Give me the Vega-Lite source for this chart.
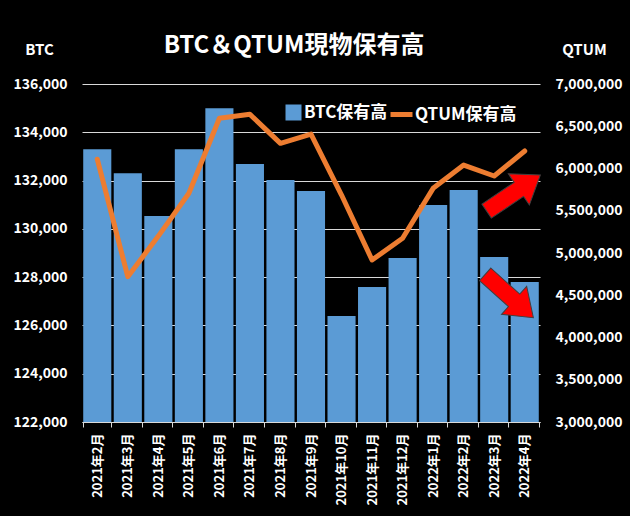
{
  "$schema": "https://vega.github.io/schema/vega-lite/v6.json",
  "width": 458,
  "height": 338,
  "autosize": {"type": "none"},
  "padding": {"left": 82, "top": 84, "right": 90, "bottom": 94},
  "background": "#000000",
  "title": {
    "text": "BTC＆QTUM現物保有高",
    "fontSize": 24,
    "fontWeight": "bold",
    "color": "#ffffff",
    "anchor": "middle",
    "dx": -17,
    "dy": 26,
    "offset": 10
  },
  "data": {
    "values": [
      {"month": "2021年2月", "btc": 133300, "qtum": 6110000},
      {"month": "2021年3月", "btc": 132300, "qtum": 4720000},
      {"month": "2021年4月", "btc": 130530, "qtum": 5200000},
      {"month": "2021年5月", "btc": 133300, "qtum": 5707000},
      {"month": "2021年6月", "btc": 135000, "qtum": 6594000},
      {"month": "2021年7月", "btc": 132690, "qtum": 6641000},
      {"month": "2021年8月", "btc": 132020, "qtum": 6298000},
      {"month": "2021年9月", "btc": 131570, "qtum": 6408000},
      {"month": "2021年10月", "btc": 126390, "qtum": 5686000},
      {"month": "2021年11月", "btc": 127590, "qtum": 4917000},
      {"month": "2021年12月", "btc": 128790, "qtum": 5174000},
      {"month": "2022年1月", "btc": 130990, "qtum": 5765000},
      {"month": "2022年2月", "btc": 131610, "qtum": 6041000},
      {"month": "2022年3月", "btc": 128830, "qtum": 5911000},
      {"month": "2022年4月", "btc": 127800, "qtum": 6207000}
    ]
  },
  "layer": [
    {
      "mark": {"type": "bar", "clip": true},
      "encoding": {
        "x": {
          "field": "month",
          "type": "nominal",
          "sort": null,
          "scale": {"paddingInner": 0.08, "paddingOuter": 0.04},
          "axis": {
            "title": null,
            "labelAngle": -90,
            "labelColor": "#ffffff",
            "labelFontSize": 13,
            "labelFontWeight": "bold",
            "labelPadding": 6,
            "domainColor": "#d9d9d9",
            "tickColor": "#d9d9d9",
            "tickSize": 5,
            "tickBand": "extent"
          }
        },
        "y": {
          "field": "btc",
          "type": "quantitative",
          "scale": {"domain": [122000, 136000], "zero": false, "nice": false},
          "axis": {
            "orient": "left",
            "title": "BTC",
            "titleAngle": 0,
            "titleX": -43,
            "titleY": -35,
            "titleAlign": "center",
            "titleBaseline": "middle",
            "titleColor": "#ffffff",
            "titleFontSize": 15,
            "titleFontWeight": "bold",
            "values": [122000, 124000, 126000, 128000, 130000, 132000, 134000, 136000],
            "format": ",.0f",
            "labelColor": "#ffffff",
            "labelFontSize": 14,
            "labelFontWeight": "bold",
            "labelPadding": 15,
            "ticks": false,
            "domain": false,
            "grid": true,
            "gridColor": "#d9d9d9",
            "gridWidth": 1
          }
        },
        "fill": {
          "datum": "BTC保有高",
          "scale": {"range": ["#5b9bd5"]},
          "legend": {
            "orient": "none",
            "legendX": 203,
            "legendY": 20,
            "title": null,
            "direction": "horizontal",
            "padding": 0,
            "labelColor": "#ffffff",
            "labelFontSize": 17,
            "labelFontWeight": "bold",
            "labelOffset": 2,
            "symbolType": "square",
            "symbolSize": 256,
            "symbolStrokeWidth": 0
          }
        }
      }
    },
    {
      "layer": [
        {
          "mark": {"type": "line", "strokeWidth": 5, "strokeJoin": "round", "strokeCap": "round"},
          "encoding": {
            "x": {"field": "month", "type": "nominal", "sort": null},
            "y": {
              "field": "qtum",
              "type": "quantitative",
              "scale": {"domain": [3000000, 7000000], "zero": false, "nice": false},
              "axis": {
                "orient": "right",
                "title": "QTUM",
                "titleAngle": 0,
                "titleX": 44,
                "titleY": -35,
                "titleAlign": "center",
                "titleBaseline": "middle",
                "titleColor": "#ffffff",
                "titleFontSize": 15,
                "titleFontWeight": "bold",
                "values": [3000000, 3500000, 4000000, 4500000, 5000000, 5500000, 6000000, 6500000, 7000000],
                "format": ",.0f",
                "labelColor": "#ffffff",
                "labelFontSize": 14,
                "labelFontWeight": "bold",
                "labelPadding": 15,
                "ticks": false,
                "domain": false,
                "grid": false
              }
            },
            "stroke": {
              "datum": "QTUM保有高",
              "scale": {"range": ["#ed7d31"]},
              "legend": {
                "orient": "none",
                "legendX": 306,
                "legendY": 17,
                "title": null,
                "direction": "horizontal",
                "padding": 0,
                "labelColor": "#ffffff",
                "labelFontSize": 17,
                "labelFontWeight": "bold",
                "labelOffset": 0,
                "symbolType": "stroke",
                "symbolSize": 484,
                "symbolStrokeWidth": 5
              }
            }
          }
        },
        {
          "data": {"values": [{"month": "2022年4月", "qtum": 5710000}]},
          "mark": {
            "type": "point",
            "shape": "M-1,-0.26L0.2,-0.26L0.2,-0.58L1,0L0.2,0.58L0.2,0.26L-1,0.26Z",
            "size": 4200,
            "angle": -34,
            "filled": true,
            "opacity": 1,
            "color": "#ff0000",
            "stroke": "#404040",
            "strokeWidth": 1
          },
          "encoding": {
            "x": {"field": "month", "type": "nominal", "sort": null, "bandPosition": 0.1},
            "y": {"field": "qtum", "type": "quantitative"}
          }
        },
        {
          "data": {"values": [{"month": "2022年4月", "qtum": 4491000}]},
          "mark": {
            "type": "point",
            "shape": "M-1,-0.26L0.2,-0.26L0.2,-0.58L1,0L0.2,0.58L0.2,0.26L-1,0.26Z",
            "size": 4200,
            "angle": 42,
            "filled": true,
            "opacity": 1,
            "color": "#ff0000",
            "stroke": "#404040",
            "strokeWidth": 1
          },
          "encoding": {
            "x": {"field": "month", "type": "nominal", "sort": null, "bandPosition": -0.05},
            "y": {"field": "qtum", "type": "quantitative"}
          }
        }
      ]
    }
  ],
  "resolve": {"scale": {"y": "independent"}},
  "config": {
    "font": "Noto Sans CJK JP",
    "view": {"stroke": null}
  }
}
